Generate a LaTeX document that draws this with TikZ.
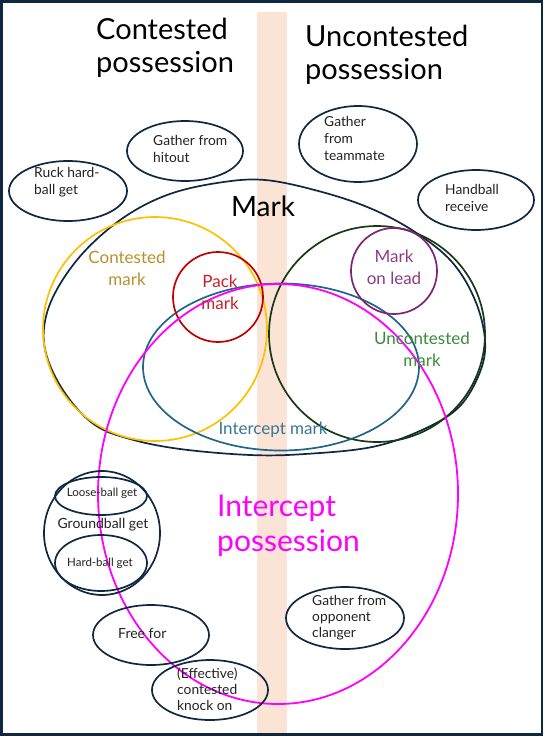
\documentclass[tikz,border=0pt]{standalone}
\usepackage{fontspec}
\setmainfont{Lato}
\usetikzlibrary{shapes.geometric}
\definecolor{navy}{HTML}{0E2841}
\definecolor{band}{HTML}{FBE3D6}
\definecolor{gold}{HTML}{FFC000}
\definecolor{goldtxt}{HTML}{B8902A}
\definecolor{redc}{HTML}{C00000}
\definecolor{redtxt}{HTML}{C8202A}
\definecolor{purp}{HTML}{7A2475}
\definecolor{purptxt}{HTML}{8E3A8A}
\definecolor{dgreen}{HTML}{173A14}
\definecolor{greentxt}{HTML}{3C8A3C}
\definecolor{bluec}{HTML}{1F6585}
\definecolor{bluetxt}{HTML}{3A7596}
\definecolor{mag}{HTML}{FF00FF}
\definecolor{txtgray}{HTML}{222222}
\tikzset{
  oval/.style={draw=navy, line width=1.7pt, ellipse, inner sep=0pt},
  ring/.style={circle, inner sep=0pt, line width=1.7pt},
  smalltxt/.style={font=\fontsize{13.8}{17}\selectfont, align=left, anchor=west, inner sep=0pt, text=txtgray},
  midtxt/.style={font=\fontsize{17}{22}\selectfont, align=center, inner sep=0pt},
  bigtxt/.style={font=\fontsize{29}{33}\selectfont, align=left, inner sep=0pt},
}
\begin{document}
\begin{tikzpicture}[x=1pt,y=-1pt]
\useasboundingbox (0,0) rectangle (544,750);
% band
\fill[band] (257,12) rectangle (287,735);
% frame
\draw[navy, line width=2.5pt] (1.5,1.5) rectangle (542,734.5);

% Titles
\node[bigtxt, anchor=north west] (tcont) at (96,18) {Contested\\possession};
\node[bigtxt, anchor=north west] (tunc) at (305,25) {Uncontested\\possession};

% Mark outer shape
\draw[navy, line width=1.7pt] plot[smooth cycle, tension=0.6] coordinates {
 (265,180) (322,192) (372,209) (415,232) (452,262) (475,300) (485,340)
 (480,372) (459,407) (422,430) (372,447) (305,454) (250,455) (180,449)
 (130,439) (95,425) (67,396) (48,360) (44,328) (55,293) (83,253)
 (123,218) (167,195) (217,183)};
\node[font=\fontsize{28}{33}\selectfont, inner sep=0pt] (markt) at (263,206) {Mark};

% Circles
\node[ring, draw=gold, minimum size=224pt] (cmark) at (155,329) {};
\node[ring, draw=dgreen, minimum size=216pt] (umark) at (377,334) {};
\node[oval, draw=bluec, minimum width=276pt, minimum height=167pt] (imark) at (281,367) {};
\node[ring, draw=redc, minimum size=90pt] (pmark) at (218,297) {};
\node[ring, draw=purp, minimum size=86pt] (lmark) at (394,271) {};
\node[oval, draw=mag, line width=1.8pt, minimum width=360pt, minimum height=420pt] (ipos) at (278,494) {};

\node[midtxt, text=goldtxt] (cmarkt) at (127,268) {Contested\\mark};
\node[midtxt, text=redtxt] (pmarkt) at (220,292) {Pack\\mark};
\node[midtxt, text=purptxt] (lmarkt) at (394,267) {Mark\\on lead};
\node[midtxt, text=greentxt] (umarkt) at (422,349) {Uncontested\\mark};
\node[midtxt, text=bluetxt] (imarkt) at (273,430) {Intercept mark};
\node[bigtxt, text=mag, font=\fontsize{30}{35}\selectfont, anchor=north west] (ipost) at (217,495) {Intercept\\possession};

% Small ellipses
\node[oval, minimum width=118pt, minimum height=60pt] (ruck) at (68,191) {};
\node[oval, minimum width=116pt, minimum height=60pt] (hitout) at (185,151) {};
\node[oval, minimum width=118pt, minimum height=76pt] (team) at (358,144) {};
\node[oval, minimum width=116pt, minimum height=60pt] (hand) at (476,200) {};
\node[oval, minimum width=116pt, minimum height=124pt] (ground) at (102,533) {};
\node[oval, minimum width=92pt, minimum height=38pt] (loose) at (101,496) {};
\node[oval, minimum width=92pt, minimum height=56pt] (hard) at (101,563) {};
\node[oval, minimum width=116pt, minimum height=60pt] (free) at (151,635) {};
\node[oval, minimum width=116pt, minimum height=60pt] (knock) at (210,690) {};
\node[oval, minimum width=118pt, minimum height=62pt] (clang) at (345,618) {};

\node[smalltxt] (ruckt) at (34,182) {Ruck hard-\\ball get};
\node[smalltxt] (hitoutt) at (153,149) {Gather from\\hitout};
\node[smalltxt] (teamt) at (324,138) {Gather\\from\\teammate};
\node[smalltxt] (handt) at (445,198) {Handball\\receive};
\node[smalltxt, font=\fontsize{13.8}{16}\selectfont] (clangt) at (312,618) {Gather from\\opponent\\clanger};
\node[smalltxt, font=\fontsize{13.8}{16}\selectfont] (knockt) at (177,689) {(Effective)\\contested\\knock on};
\node[smalltxt, font=\fontsize{14}{17}\selectfont] (freet) at (118,633) {Free for};
\node[smalltxt, anchor=center, font=\fontsize{14}{17}\selectfont] (groundt) at (103,525) {Groundball get};
\node[smalltxt, anchor=center, font=\fontsize{11.5}{14}\selectfont] (looset) at (102,493) {Loose-ball get};
\node[smalltxt, anchor=center, font=\fontsize{11.5}{14}\selectfont] (hardt) at (100,563) {Hard-ball get};
\end{tikzpicture}
\end{document}
